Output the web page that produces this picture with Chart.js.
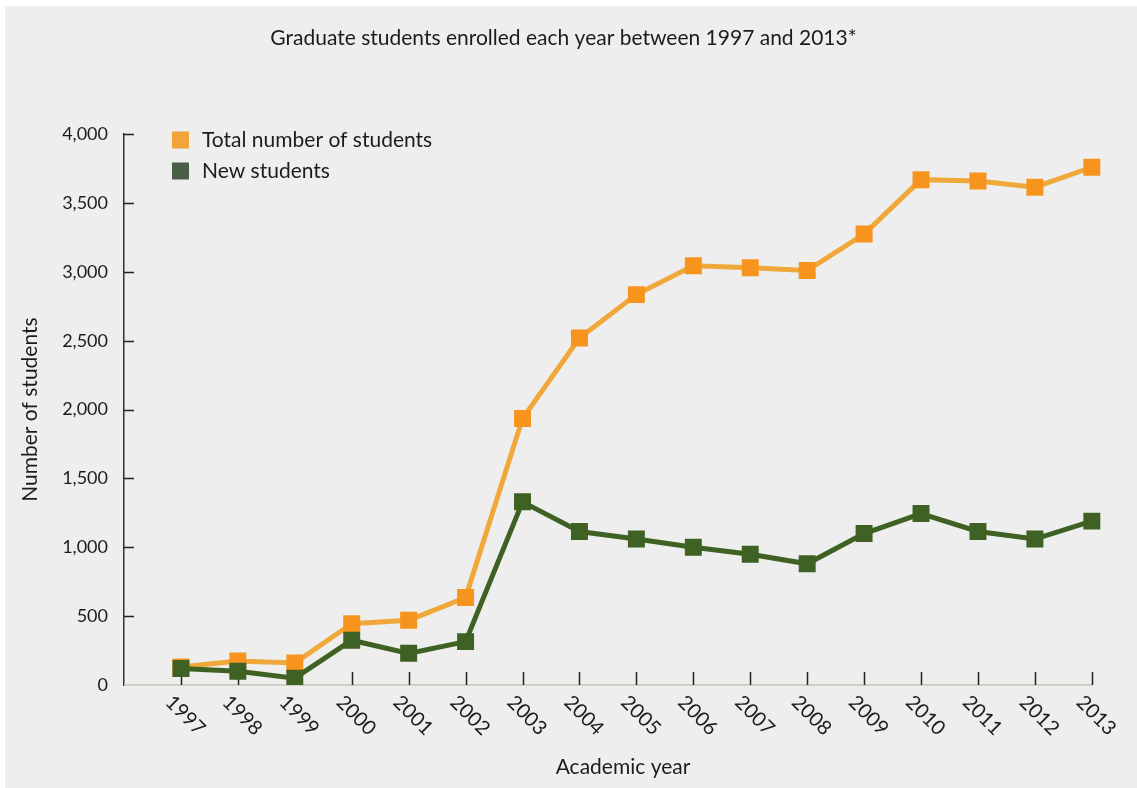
<!DOCTYPE html>
<html lang="en">
<head>
  <meta charset="UTF-8">
  <title>Graduate students enrolled each year</title>
  <script src="https://cdn.jsdelivr.net/npm/chart.js"></script>
  <style>
    html, body { margin: 0; padding: 0; background: #ffffff; }
    .panel {
      position: absolute;
      left: 5px;
      top: 6px;
      width: 1132px;
      height: 782px;
      background: #edeeed;
    }
  </style>
</head>
<body>
  <div class="panel">
    <canvas id="myChart"></canvas>
  </div>

  <script>
    // Datos
    const years = [1997, 1998, 1999, 2000, 2001, 2002, 2003, 2004, 2005, 2006, 2007, 2008, 2009, 2010, 2011, 2012, 2013];
    const totalStudents = [130, 175, 160, 445, 470, 635, 1935, 2520, 2835, 3045, 3030, 3010, 3275, 3670, 3660, 3615, 3760];
    const newStudents = [120, 100, 50, 325, 230, 315, 1330, 1115, 1060, 1000, 950, 880, 1100, 1245, 1115, 1060, 1190];
    const yTickValues = [0, 500, 1000, 1500, 2000, 2500, 3000, 3500, 4000];
    const xTickLabels = years.map(String);
    const seriesNames = ['Total number of students', 'New students'];

    const fontFamily = 'Lato, "Open Sans", sans-serif';
    const textColor = '#1c1c1c';

    // Ejes, marcas hacia dentro y leyenda dibujados a mano
    const axisDecor = {
      id: 'axisDecor',
      beforeDatasetsDraw(chart) {
        const {ctx, chartArea: a, scales: {x, y}} = chart;
        ctx.save();
        ctx.lineWidth = 1.5;
        ctx.strokeStyle = '#c4c6b6';
        ctx.beginPath();
        ctx.moveTo(a.left, a.bottom);
        ctx.lineTo(x.getPixelForValue(years[years.length - 1]) + 1, a.bottom);
        ctx.stroke();

        ctx.strokeStyle = '#222';
        ctx.beginPath();
        years.forEach(yr => {
          const px = Math.round(x.getPixelForValue(yr)) + 0.5;
          ctx.moveTo(px, a.bottom);
          ctx.lineTo(px, a.bottom - 13);
        });
        y.ticks.forEach(t => {
          if (t.value === 0) return;
          const py = Math.round(y.getPixelForValue(t.value)) + 0.5;
          ctx.moveTo(a.left, py);
          ctx.lineTo(a.left + 10, py);
        });
        ctx.stroke();
        ctx.restore();
      },
      afterDraw(chart) {
        const {ctx, chartArea: a, scales: {x}} = chart;
        ctx.save();
        // etiquetas del eje x giradas
        ctx.fillStyle = textColor;
        ctx.font = '20px ' + fontFamily;
        ctx.textAlign = 'left';
        ctx.textBaseline = 'middle';
        years.forEach((yr, i) => {
          const px = x.getPixelForValue(yr);
          ctx.save();
          ctx.translate(px - 12, a.bottom + 14);
          ctx.rotate(Math.PI / 4);
          ctx.fillText(xTickLabels[i], 0, 0);
          ctx.restore();
        });

        // leyenda
        const items = [
          {text: seriesNames[0], color: '#f2a33a', y: 134},
          {text: seriesNames[1], color: '#4a5f47', y: 165}
        ];
        ctx.font = '21px ' + fontFamily;
        items.forEach(it => {
          ctx.fillStyle = it.color;
          ctx.fillRect(167, it.y - 8.5, 17, 17);
          ctx.fillStyle = textColor;
          ctx.fillText(it.text, 197, it.y);
        });
        ctx.restore();
      }
    };

    document.addEventListener('DOMContentLoaded', () => {
      const ctx = document.getElementById('myChart').getContext('2d');
      const chart = new Chart(ctx, {
        type: 'line',
        data: {
          datasets: [
            {
              label: seriesNames[0],
              data: years.map((yr, i) => ({x: yr, y: totalStudents[i]})),
              borderColor: '#f0a83a',
              backgroundColor: '#f7941d',
              pointBackgroundColor: '#f7941d',
              borderWidth: 5,
              pointStyle: 'rect',
              pointRadius: 12,
              pointBorderWidth: 0,
              tension: 0,
              order: 2
            },
            {
              label: seriesNames[1],
              data: years.map((yr, i) => ({x: yr, y: newStudents[i]})),
              borderColor: '#3f6123',
              backgroundColor: '#3f6123',
              pointBackgroundColor: '#3f6123',
              borderWidth: 5,
              pointStyle: 'rect',
              pointRadius: 12,
              pointBorderWidth: 0,
              tension: 0,
              order: 1
            }
          ]
        },
        options: {
          responsive: true,
          maintainAspectRatio: false,
          animation: false,
          layout: {
            padding: {left: 0, right: 15, top: 0, bottom: 0}
          },
          scales: {
            x: {
              type: 'linear',
              min: 1996,
              max: 2013.53,
              grid: {display: false},
              border: {display: false},
              ticks: {display: false},
              afterFit(scale) { scale.height = 103; },
              title: {
                display: true,
                text: 'Academic year',
                color: textColor,
                font: {family: fontFamily, size: 21},
                padding: {top: 0, bottom: 8}
              }
            },
            y: {
              min: 0,
              max: 4000,
              afterBuildTicks(scale) {
                scale.ticks = yTickValues.map(v => ({value: v}));
              },
              grid: {display: false, drawTicks: false},
              border: {display: true, color: '#333', width: 1.5},
              ticks: {
                padding: 16,
                color: textColor,
                font: {family: fontFamily, size: 18},
                callback: v => v.toLocaleString('en-US')
              },
              afterFit(scale) { scale.width = 119; },
              title: {
                display: true,
                text: 'Number of students',
                color: textColor,
                font: {family: fontFamily, size: 21},
                padding: {top: 13, bottom: 0}
              }
            }
          },
          plugins: {
            legend: {display: false},
            tooltip: {enabled: false},
            title: {
              display: true,
              text: 'Graduate students enrolled each year between 1997 and 2013*',
              color: textColor,
              font: {family: fontFamily, size: 21, weight: 'normal'},
              padding: {top: 20, bottom: 83}
            }
          }
        },
        plugins: [axisDecor]
      });
      window.myChart = chart;
    });
  </script>
</body>
</html>
